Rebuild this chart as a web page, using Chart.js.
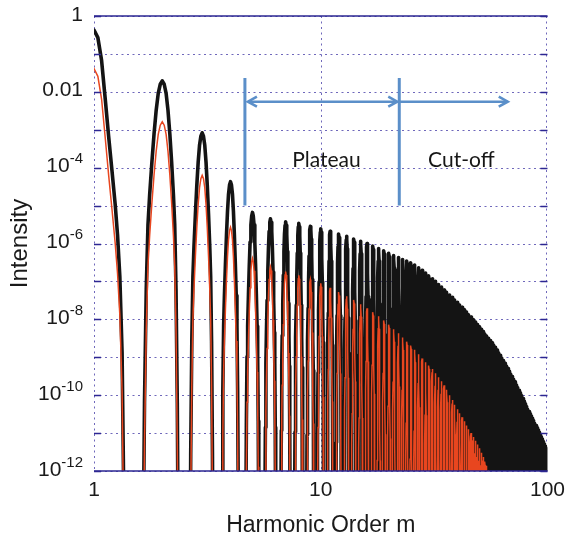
<!DOCTYPE html>
<html>
<head>
<meta charset="utf-8">
<title>Harmonic spectrum</title>
<script src="https://cdn.jsdelivr.net/npm/chart.js@4.4.1/dist/chart.umd.min.js"></script>
<style>
    html, body { margin: 0; padding: 0; background: #fff; }
    #wrap { width: 572px; height: 540px; }
</style>
</head>
<body>
<div id="wrap"><canvas id="spectrum" width="572" height="540"></canvas></div>
<script>
// ---------------------------------------------------------------
// data: harmonic orders and log10 of the peak intensity of each lobe
// ---------------------------------------------------------------
const harmonicOrders = Array.from({ length: 100 }, (_, i) => i + 1);

// thick black curve
const peakLogTotal = [
    -0.37, -1.71, -3.08, -4.37, -5.18, -5.35, -5.43, -5.47, -5.55, -5.61,
    -5.68, -5.75, -5.81, -5.88, -5.94, -6.00, -6.07, -6.13, -6.19, -6.26,
    -6.32, -6.37, -6.42, -6.46, -6.51, -6.57, -6.64, -6.71, -6.78, -6.85,
    -6.93, -7.00, -7.08, -7.15, -7.23, -7.29, -7.36, -7.42, -7.49, -7.55,
    -7.62, -7.68, -7.75, -7.81, -7.88, -7.94, -8.01, -8.07, -8.14, -8.20,
    -8.26, -8.32, -8.38, -8.44, -8.50, -8.56, -8.62, -8.68, -8.74, -8.81,
    -8.88, -8.95, -9.02, -9.09, -9.16, -9.23, -9.30, -9.37, -9.44, -9.51,
    -9.58, -9.65, -9.73, -9.80, -9.87, -9.94, -10.01, -10.09, -10.16, -10.23,
    -10.30, -10.37, -10.43, -10.49, -10.55, -10.61, -10.67, -10.74, -10.80, -10.86,
    -10.92, -10.98, -11.04, -11.10, -11.16, -11.22, -11.29, -11.35, -11.41, -11.47
];

// thin red curve (drops below the axis after m = 55)
const peakLogSingle = [
    -1.39, -2.79, -4.20, -5.57, -6.39, -6.62, -6.74, -6.84, -6.95, -7.05,
    -7.17, -7.28, -7.39, -7.49, -7.60, -7.71, -7.81, -7.92, -8.03, -8.14,
    -8.26, -8.37, -8.48, -8.59, -8.69, -8.80, -8.92, -9.03, -9.13, -9.22,
    -9.31, -9.42, -9.53, -9.63, -9.74, -9.86, -10.00, -10.13, -10.25, -10.37,
    -10.48, -10.58, -10.69, -10.80, -10.90, -11.00, -11.10, -11.20, -11.30, -11.40,
    -11.52, -11.63, -11.75, -11.86, -11.98, -12.09, -12.20
];

// shape of one lobe: distance from the harmonic (in m) and fall below the peak (decades)
const lobeOffsets   = [0, 0.04, 0.08, 0.12, 0.16, 0.20, 0.24, 0.27, 0.30, 0.33, 0.35, 0.37];
const lobeFall      = [0, 0.09, 0.33, 0.78, 1.40, 2.15, 3.00, 3.80, 5.50, 8.50, 12.0, 25.0];
const firstLobeFall = [0, 0.20, 0.80, 1.80, 2.80, 3.70, 4.60, 5.40, 6.50, 8.50, 11.8, 25.0];

// axis ticks and labels
const xTickValues = [1, 10, 100];
const xTickLabels = ['1', '10', '100'];
const yTickValues = [1, 1e-1, 1e-2, 1e-3, 1e-4, 1e-5, 1e-6, 1e-7, 1e-8, 1e-9, 1e-10, 1e-11, 1e-12];
const yLabelValues = [1, 1e-2, 1e-4, 1e-6, 1e-8, 1e-10, 1e-12];
const yLabelBase = ['1', '0.01', '10', '10', '10', '10', '10'];
const yLabelSup  = ['', '', '-4', '-6', '-8', '-10', '-12'];

// plateau / cut-off markers
const plateauStart = 4.63;
const cutoffStart = 22.2;
const cutoffArrowEnd = 66.8;
const markerTop = 0.023;
const markerBottom = 1e-5;
const arrowLevel = 0.0055;
const regionLabels = [
    { text: 'Plateau', x: 10.6, y: 1.05e-4 },
    { text: 'Cut-off', x: 41.7, y: 1.05e-4 }
];

// ---------------------------------------------------------------
// build line points lobe by lobe
// ---------------------------------------------------------------
function lobePoints(m, peakLog, fall) {
    const pts = [];
    for (let k = lobeOffsets.length - 1; k > 0; k--) {
        pts.push({ x: m - lobeOffsets[k], y: Math.pow(10, peakLog - fall[k]) });
    }
    for (let k = 0; k < lobeOffsets.length; k++) {
        pts.push({ x: m + lobeOffsets[k], y: Math.pow(10, peakLog - fall[k]) });
    }
    return pts;
}

function spectrumPoints(peaks) {
    let pts = [];
    peaks.forEach((p, i) => {
        const m = harmonicOrders[i];
        pts = pts.concat(lobePoints(m, p, m === 1 ? firstLobeFall : lobeFall));
    });
    return pts;
}

const FRAME = '#2d2792';
const GRID = '#6f68bb';
const ARROW = '#5b8fc9';
const SANS = '"Liberation Sans", Arial, Helvetica, sans-serif';

// grid, frame, tick marks, y labels and the plateau/cut-off markers
const spectrumDecor = {
    id: 'spectrumDecor',
    beforeDatasetsDraw(chart) {
        const { ctx, chartArea: a, scales: { x, y } } = chart;
        ctx.save();
        ctx.strokeStyle = GRID;
        ctx.lineWidth = 1;
        ctx.setLineDash([2, 3.5]);
        yTickValues.forEach(v => {
            const py = Math.round(y.getPixelForValue(v)) + 0.5;
            ctx.beginPath();
            ctx.moveTo(a.left, py);
            ctx.lineTo(a.right, py);
            ctx.stroke();
        });
        xTickValues.forEach(v => {
            let px = Math.round(x.getPixelForValue(v)) + 0.5;
            if (v === 100) px -= 1;
            ctx.beginPath();
            ctx.moveTo(px, a.top);
            ctx.lineTo(px, a.bottom);
            ctx.stroke();
        });
        ctx.restore();
    },
    afterDatasetsDraw(chart) {
        const { ctx, chartArea: a, scales: { x, y } } = chart;
        ctx.save();

        // solid top and bottom edges
        ctx.strokeStyle = FRAME;
        ctx.lineWidth = 1.4;
        ctx.beginPath();
        ctx.moveTo(a.left, a.top);
        ctx.lineTo(a.right, a.top);
        ctx.moveTo(a.left, a.bottom);
        ctx.lineTo(a.right, a.bottom);
        ctx.stroke();

        // inward tick marks on both sides
        ctx.lineWidth = 1.3;
        yTickValues.forEach(v => {
            const py = Math.round(y.getPixelForValue(v)) + 0.5;
            ctx.beginPath();
            ctx.moveTo(a.left, py);
            ctx.lineTo(a.left + 7, py);
            ctx.moveTo(a.right - 7, py);
            ctx.lineTo(a.right, py);
            ctx.stroke();
        });

        // plateau / cut-off markers
        const x1 = x.getPixelForValue(plateauStart);
        const x2 = x.getPixelForValue(cutoffStart);
        const x3 = x.getPixelForValue(cutoffArrowEnd);
        const yTop = y.getPixelForValue(markerTop);
        const yBot = y.getPixelForValue(markerBottom);
        const yArr = y.getPixelForValue(arrowLevel);
        ctx.strokeStyle = ARROW;
        ctx.lineWidth = 3;
        ctx.lineCap = 'butt';
        ctx.beginPath();
        ctx.moveTo(x1, yTop); ctx.lineTo(x1, yBot);
        ctx.moveTo(x2, yTop); ctx.lineTo(x2, yBot);
        ctx.stroke();

        ctx.lineWidth = 2.6;
        const head = (tipX, dir) => {
            ctx.beginPath();
            ctx.moveTo(tipX - dir * 9, yArr - 5);
            ctx.lineTo(tipX, yArr);
            ctx.lineTo(tipX - dir * 9, yArr + 5);
            ctx.stroke();
        };
        ctx.beginPath();
        ctx.moveTo(x1 + 3, yArr); ctx.lineTo(x2 - 2, yArr);
        ctx.moveTo(x2, yArr); ctx.lineTo(x3, yArr);
        ctx.stroke();
        ctx.lineJoin = 'miter';
        head(x1 + 3, -1);
        head(x2 - 2, 1);
        head(x3, 1);

        ctx.fillStyle = '#161616';
        ctx.font = '21px Lato, "Open Sans", sans-serif';
        ctx.textAlign = 'center';
        ctx.textBaseline = 'alphabetic';
        regionLabels.forEach(l => {
            ctx.fillText(l.text, x.getPixelForValue(l.x), y.getPixelForValue(l.y));
        });
        ctx.restore();
    },
    afterDraw(chart) {
        // y labels with raised exponents
        const { ctx, chartArea: a, scales: { y } } = chart;
        const right = a.left - 11;
        ctx.save();
        ctx.fillStyle = '#1a1a1a';
        ctx.textAlign = 'right';
        ctx.textBaseline = 'alphabetic';
        yLabelValues.forEach((v, i) => {
            const py = y.getPixelForValue(v) + 4.5;
            let r = right;
            if (yLabelSup[i]) {
                ctx.font = '15px ' + SANS;
                ctx.fillText(yLabelSup[i], r, py - 9);
                r -= ctx.measureText(yLabelSup[i]).width;
            }
            ctx.font = '21px ' + SANS;
            ctx.fillText(yLabelBase[i], r, py);
        });
        ctx.restore();
    }
};

new Chart(document.getElementById('spectrum'), {
    type: 'line',
    data: {
        datasets: [
            {
                label: 'single',
                data: spectrumPoints(peakLogSingle),
                borderColor: '#e8461f',
                borderWidth: 1.5,
                pointRadius: 0,
                tension: 0,
                fill: false,
                clip: 0
            },
            {
                label: 'total',
                data: spectrumPoints(peakLogTotal),
                borderColor: '#141414',
                borderWidth: 3.6,
                borderJoinStyle: 'round',
                pointRadius: 0,
                tension: 0,
                fill: false,
                clip: 0
            }
        ]
    },
    options: {
        responsive: false,
        devicePixelRatio: 1,
        animation: false,
        events: [],
        layout: { padding: { top: 16, right: 22, left: 0, bottom: 0 } },
        plugins: {
            legend: { display: false },
            tooltip: { enabled: false }
        },
        scales: {
            x: {
                type: 'logarithmic',
                min: 1,
                max: 100,
                afterBuildTicks: s => { s.ticks = xTickValues.map(v => ({ value: v })); },
                afterFit: s => { s.height = 69; },
                grid: { display: false, drawTicks: false },
                border: { display: false },
                ticks: {
                    autoSkip: false,
                    maxRotation: 0,
                    padding: 7,
                    color: '#1a1a1a',
                    font: { family: SANS, size: 21 },
                    callback: (v) => xTickLabels[xTickValues.indexOf(v)] || ''
                },
                title: {
                    display: true,
                    text: 'Harmonic Order m',
                    color: '#1a1a1a',
                    font: { family: SANS, size: 23 },
                    padding: { top: 0, bottom: 1 }
                }
            },
            y: {
                type: 'logarithmic',
                min: 1e-12,
                max: 1,
                afterBuildTicks: s => { s.ticks = yTickValues.map(v => ({ value: v })); },
                afterFit: s => { s.width = 94; },
                grid: { display: false, drawTicks: false },
                border: { display: false },
                ticks: { display: false },
                title: {
                    display: true,
                    text: 'Intensity',
                    color: '#1a1a1a',
                    font: { family: SANS, size: 24 },
                    padding: { top: 6, bottom: 0 }
                }
            }
        }
    },
    plugins: [spectrumDecor]
});
</script>
</body>
</html>
